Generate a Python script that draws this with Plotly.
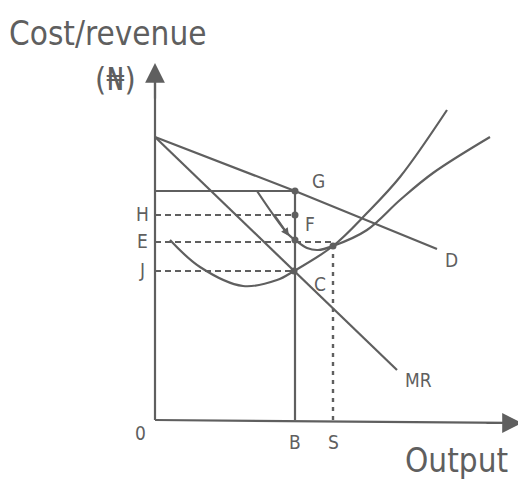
import plotly.graph_objects as go

# output / cost units, origin at the axes corner
d_x = [0, 140, 282]
d_y = [283, 229, 171]

mr_x = [0, 242]
mr_y = [283, 50]

mc_x = [15, 45, 88, 122, 139, 178, 212, 245, 292]
mc_y = [180, 153, 134, 140, 149, 174, 207, 243, 310]

ac_x = [102, 132, 140, 152, 163, 178, 212, 245, 278, 335]
ac_y = [229, 187, 180, 172, 170, 174, 190, 220, 247, 283]

q_b = 140
q_s = 178
p_g = 229
p_h = 205
p_e = 178
p_j = 149

pt_x = [140, 140, 140, 139, 178]
pt_y = [229, 205, 180, 149, 174]

level_names = ['H', 'E', 'J']
level_vals = [p_h, p_e, p_j]

col = '#5f5f5f'
font = 'DejaVu Sans Condensed, Liberation Sans Narrow, Liberation Sans'

fig = go.Figure()

def line(x, y, dash='solid', shape='linear', w=2.2):
    fig.add_trace(go.Scatter(x=x, y=y, mode='lines', line=dict(color=col, width=w, dash=dash, shape=shape),
                             hoverinfo='skip', showlegend=False))

# axes
line([0, 0], [0, 345])
line([0, 360], [0, -3])
line([0, q_b], [p_g, p_g])
line([q_b, q_b], [0, p_g])

# dashed guides
line([0, q_b], [p_h, p_h], dash='6px,4px', w=2)
line([0, q_s], [p_e, p_e], dash='6px,4px', w=2)
line([0, q_b], [p_j, p_j], dash='6px,4px', w=2)
line([q_s, q_s], [0, p_e], dash='4px,5px', w=2.4)

# curves
line(d_x, d_y)
line(mr_x, mr_y)
line(mc_x, mc_y, shape='spline')
line(ac_x, ac_y, shape='spline')

fig.add_trace(go.Scatter(x=pt_x, y=pt_y, mode='markers', marker=dict(color=col, size=7),
                         hoverinfo='skip', showlegend=False))

# arrows
fig.add_annotation(x=0, y=357, ax=0, ay=320, xref='x', yref='y', axref='x', ayref='y',
                   showarrow=True, arrowhead=2, arrowsize=1.8, arrowwidth=2.2, arrowcolor=col, text='')
fig.add_annotation(x=367, y=-3, ax=330, ay=-3, xref='x', yref='y', axref='x', ayref='y',
                   showarrow=True, arrowhead=2, arrowsize=1.8, arrowwidth=2.2, arrowcolor=col, text='')
fig.add_annotation(x=134, y=184, ax=118, ay=207, xref='x', yref='y', axref='x', ayref='y',
                   showarrow=True, arrowhead=2, arrowsize=0.8, arrowwidth=2, arrowcolor=col, text='')

def label(x, y, t, size=19):
    fig.add_annotation(x=x, y=y, text=t, showarrow=False, xref='x', yref='y',
                       font=dict(family=font, size=size, color=col))

label(-47, 387, 'Cost/revenue', 33)
label(-40, 341, '(₦)', 32)
label(163, 239, 'G')
label(155, 196, 'F')
for n, v in zip(level_names, level_vals):
    label(-13, v + 1, n)
label(165, 136, 'C')
label(296, 160, 'D')
label(263, 40, 'MR')
label(-15, -13, '0')
label(q_b, -22, 'B')
label(q_s, -22, 'S')
label(301, -40, 'Output', 33)

# the page body adds an 8px margin, so the figure is 8px smaller than the window
fig.update_layout(width=518, height=475, margin=dict(l=0, r=0, t=0, b=0),
                  plot_bgcolor='white', paper_bgcolor='white',
                  xaxis=dict(range=[-147, 371], visible=False),
                  yaxis=dict(range=[-63, 412], visible=False))

fig.write_html('out.html')
